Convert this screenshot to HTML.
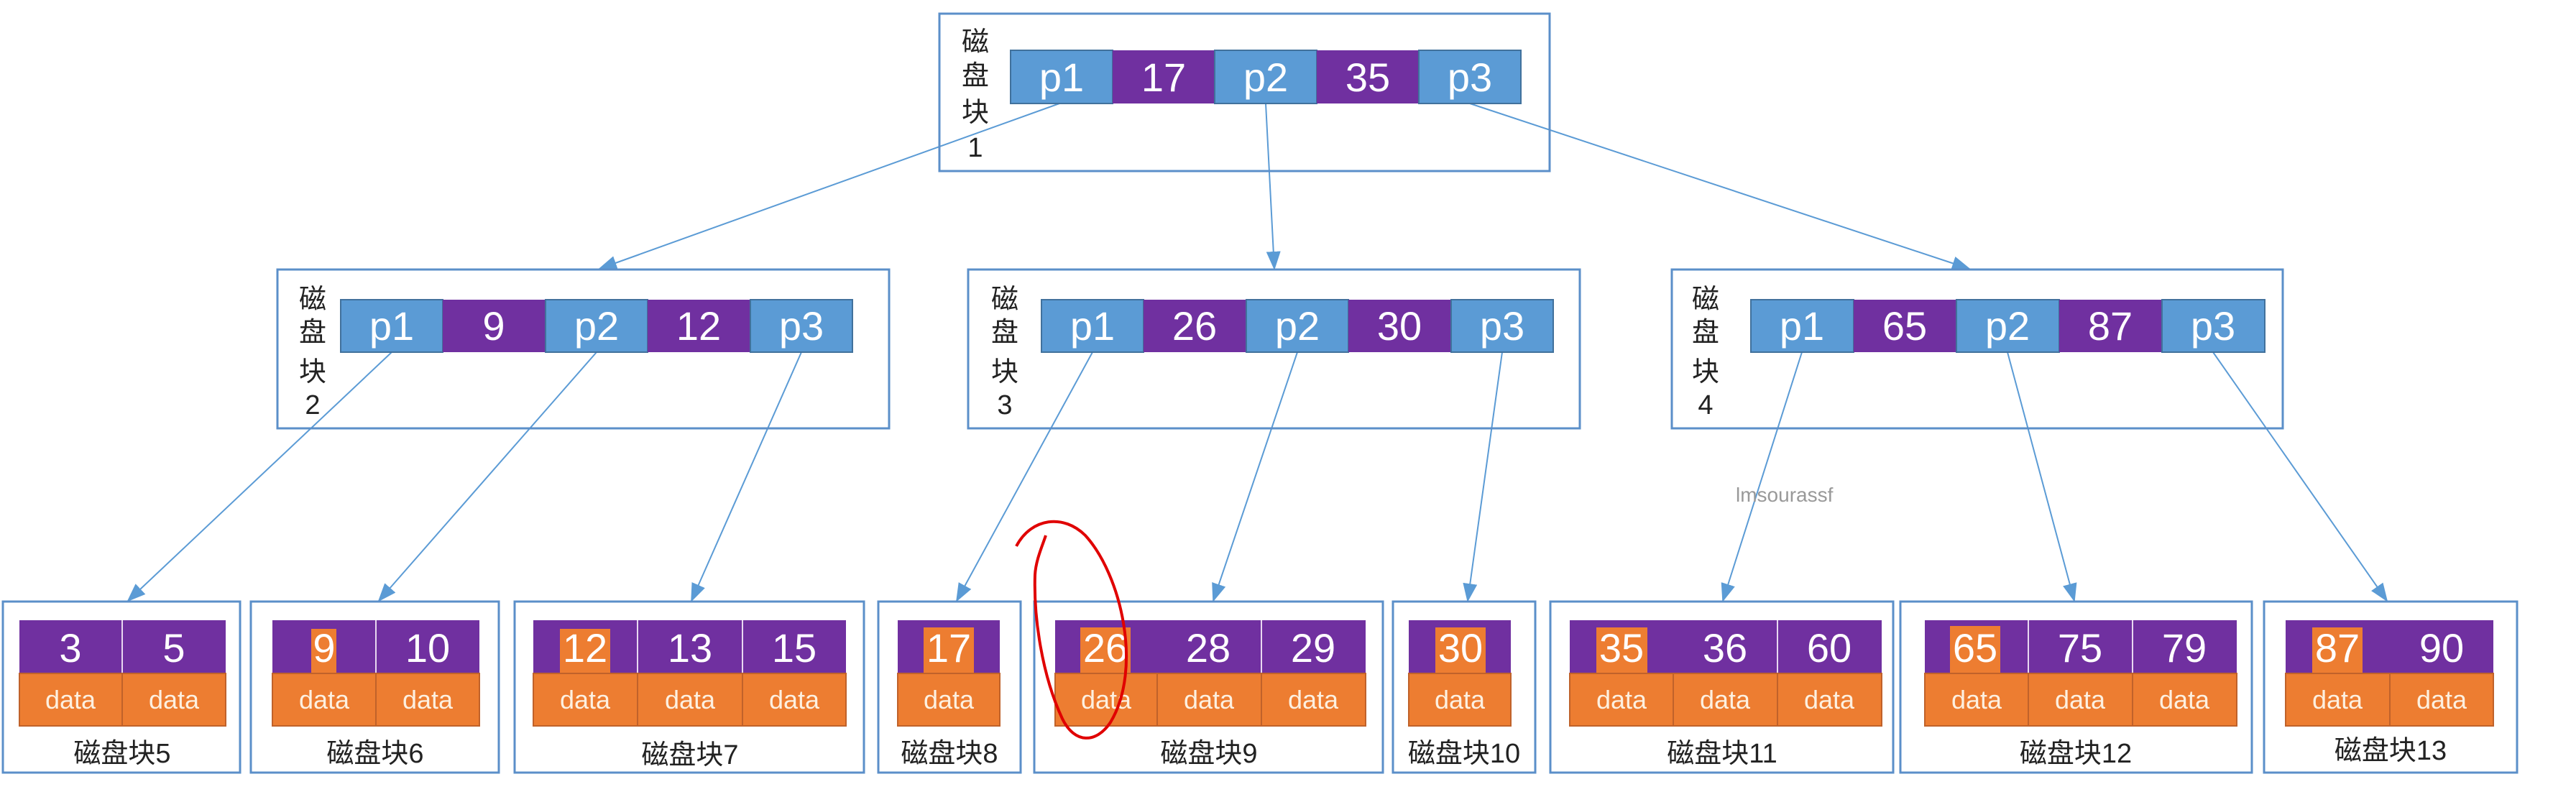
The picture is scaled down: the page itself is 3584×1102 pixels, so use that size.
<!DOCTYPE html>
<html><head><meta charset="utf-8"><style>
html,body{margin:0;padding:0;background:#fff;}
svg{display:block;}
text{font-family:"Liberation Sans","Noto Sans CJK SC",sans-serif;}
</style></head><body>
<svg width="3584" height="1102" viewBox="0 0 3584 1102" xmlns="http://www.w3.org/2000/svg">
<defs>
<marker id="ah" markerWidth="26" markerHeight="20" refX="24" refY="10" orient="auto" markerUnits="userSpaceOnUse">
<path d="M0,0 L26,10 L0,20 Z" fill="#5b9bd5"/>
</marker>
</defs>
<rect width="3584" height="1102" fill="#fff"/>

<g stroke="#5b9bd5" stroke-width="2" fill="none" marker-end="url(#ah)">
<line x1="1474" y1="144" x2="834" y2="374"/>
<line x1="1761" y1="144" x2="1773" y2="374"/>
<line x1="2045" y1="144" x2="2740" y2="374"/>
<line x1="545" y1="490" x2="178" y2="836"/>
<line x1="830" y1="490" x2="527" y2="836"/>
<line x1="1115" y1="490" x2="962" y2="836"/>
<line x1="1520" y1="490" x2="1331" y2="836"/>
<line x1="1805" y1="490" x2="1688" y2="836"/>
<line x1="2090" y1="490" x2="2042" y2="836"/>
<line x1="2507" y1="490" x2="2397" y2="836"/>
<line x1="2793" y1="490" x2="2886" y2="836"/>
<line x1="3079" y1="490" x2="3321" y2="836"/>
</g>

<g fill="none" stroke="#5b8fc9" stroke-width="3">
<rect x="1307" y="19" width="849" height="219"/>
<rect x="386" y="375" width="851" height="221"/>
<rect x="1347" y="375" width="851" height="221"/>
<rect x="2326" y="375" width="850" height="221"/>
<rect x="4" y="837" width="330" height="238"/>
<rect x="349" y="837" width="345" height="238"/>
<rect x="716" y="837" width="486" height="238"/>
<rect x="1222" y="837" width="198" height="238"/>
<rect x="1439" y="837" width="485" height="238"/>
<rect x="1938" y="837" width="198" height="238"/>
<rect x="2157" y="837" width="477" height="238"/>
<rect x="2644" y="837" width="489" height="238"/>
<rect x="3150" y="837" width="352" height="238"/>
</g>

<g font-size="38" fill="#222" text-anchor="middle">
<text x="1357" y="71">磁</text><text x="1357" y="118">盘</text><text x="1357" y="169">块</text><text x="1357" y="218">1</text>
<text x="435" y="429">磁</text><text x="435" y="475">盘</text><text x="435" y="530">块</text><text x="435" y="576">2</text>
<text x="1398" y="429">磁</text><text x="1398" y="475">盘</text><text x="1398" y="530">块</text><text x="1398" y="576">3</text>
<text x="2373" y="429">磁</text><text x="2373" y="475">盘</text><text x="2373" y="530">块</text><text x="2373" y="576">4</text>
</g>

<g stroke="#41719c" stroke-width="2">
<rect x="1406" y="70" width="142" height="74" fill="#5b9bd5"/>
<rect x="1548" y="70" width="142" height="74" fill="#7030a0" stroke="none"/>
<rect x="1690" y="70" width="142" height="74" fill="#5b9bd5"/>
<rect x="1832" y="70" width="142" height="74" fill="#7030a0" stroke="none"/>
<rect x="1974" y="70" width="142" height="74" fill="#5b9bd5"/>

<rect x="474" y="417" width="142" height="73" fill="#5b9bd5"/>
<rect x="616" y="417" width="143" height="73" fill="#7030a0" stroke="none"/>
<rect x="759" y="417" width="142" height="73" fill="#5b9bd5"/>
<rect x="901" y="417" width="143" height="73" fill="#7030a0" stroke="none"/>
<rect x="1044" y="417" width="142" height="73" fill="#5b9bd5"/>

<rect x="1449" y="417" width="142" height="73" fill="#5b9bd5"/>
<rect x="1591" y="417" width="143" height="73" fill="#7030a0" stroke="none"/>
<rect x="1734" y="417" width="142" height="73" fill="#5b9bd5"/>
<rect x="1876" y="417" width="143" height="73" fill="#7030a0" stroke="none"/>
<rect x="2019" y="417" width="142" height="73" fill="#5b9bd5"/>

<rect x="2436" y="417" width="143" height="73" fill="#5b9bd5"/>
<rect x="2579" y="417" width="143" height="73" fill="#7030a0" stroke="none"/>
<rect x="2722" y="417" width="143" height="73" fill="#5b9bd5"/>
<rect x="2865" y="417" width="143" height="73" fill="#7030a0" stroke="none"/>
<rect x="3008" y="417" width="143" height="73" fill="#5b9bd5"/>
</g>
<g font-size="56" fill="#fff" text-anchor="middle">
<text x="1477" y="127">p1</text><text x="1619" y="127">17</text><text x="1761" y="127">p2</text><text x="1903" y="127">35</text><text x="2045" y="127">p3</text>
<text x="545" y="473">p1</text><text x="687" y="473">9</text><text x="830" y="473">p2</text><text x="972" y="473">12</text><text x="1115" y="473">p3</text>
<text x="1520" y="473">p1</text><text x="1662" y="473">26</text><text x="1805" y="473">p2</text><text x="1947" y="473">30</text><text x="2090" y="473">p3</text>
<text x="2507" y="473">p1</text><text x="2650" y="473">65</text><text x="2793" y="473">p2</text><text x="2936" y="473">87</text><text x="3079" y="473">p3</text>
</g>

<g fill="#7030a0">
<rect x="27" y="863" width="287" height="74"/>
<rect x="379" y="863" width="288" height="74"/>
<rect x="742" y="863" width="435" height="74"/>
<rect x="1249" y="863" width="142" height="74"/>
<rect x="1468" y="863" width="432" height="74"/>
<rect x="1960" y="863" width="142" height="74"/>
<rect x="2184" y="863" width="434" height="74"/>
<rect x="2678" y="863" width="434" height="74"/>
<rect x="3180" y="863" width="289" height="74"/>
</g>
<g stroke="#e8d8f0" stroke-width="2">
<line x1="170" y1="863" x2="170" y2="937"/>
<line x1="523" y1="863" x2="523" y2="937"/>
<line x1="887" y1="863" x2="887" y2="937"/>
<line x1="1033" y1="863" x2="1033" y2="937"/>
<line x1="1755" y1="863" x2="1755" y2="937"/>
<line x1="2473" y1="863" x2="2473" y2="937"/>
<line x1="2822" y1="863" x2="2822" y2="937"/>
<line x1="2967" y1="863" x2="2967" y2="937"/>
</g>
<g fill="#ed7d31">
<rect x="433" y="875" width="35" height="62"/>
<rect x="779" y="875" width="70" height="62"/>
<rect x="1285" y="873" width="70" height="64"/>
<rect x="1503" y="873" width="70" height="64"/>
<rect x="1997" y="873" width="70" height="64"/>
<rect x="2221" y="873" width="71" height="64"/>
<rect x="2713" y="871" width="70" height="66"/>
<rect x="3217" y="873" width="70" height="64"/>
</g>
<g fill="#ed7d31" stroke="#c0622a" stroke-width="2">
<rect x="27" y="937" width="143" height="73"/><rect x="170" y="937" width="144" height="73"/>
<rect x="379" y="937" width="144" height="73"/><rect x="523" y="937" width="144" height="73"/>
<rect x="742" y="937" width="145" height="73"/><rect x="887" y="937" width="146" height="73"/><rect x="1033" y="937" width="144" height="73"/>
<rect x="1249" y="937" width="142" height="73"/>
<rect x="1468" y="937" width="142" height="73"/><rect x="1610" y="937" width="145" height="73"/><rect x="1755" y="937" width="145" height="73"/>
<rect x="1960" y="937" width="142" height="73"/>
<rect x="2184" y="937" width="144" height="73"/><rect x="2328" y="937" width="145" height="73"/><rect x="2473" y="937" width="145" height="73"/>
<rect x="2678" y="937" width="144" height="73"/><rect x="2822" y="937" width="145" height="73"/><rect x="2967" y="937" width="145" height="73"/>
<rect x="3180" y="937" width="145" height="73"/><rect x="3325" y="937" width="144" height="73"/>
</g>
<g font-size="56" fill="#fff" text-anchor="middle">
<text x="98" y="921">3</text><text x="242" y="921">5</text>
<text x="451" y="921">9</text><text x="595" y="921">10</text>
<text x="814" y="921">12</text><text x="960" y="921">13</text><text x="1105" y="921">15</text>
<text x="1320" y="921">17</text>
<text x="1538" y="921">26</text><text x="1681" y="921">28</text><text x="1827" y="921">29</text>
<text x="2032" y="921">30</text>
<text x="2256" y="921">35</text><text x="2400" y="921">36</text><text x="2545" y="921">60</text>
<text x="2748" y="921">65</text><text x="2894" y="921">75</text><text x="3039" y="921">79</text>
<text x="3252" y="921">87</text><text x="3397" y="921">90</text>
</g>
<g font-size="36" fill="#fdf0e0" text-anchor="middle">
<text x="98" y="986">data</text><text x="242" y="986">data</text>
<text x="451" y="986">data</text><text x="595" y="986">data</text>
<text x="814" y="986">data</text><text x="960" y="986">data</text><text x="1105" y="986">data</text>
<text x="1320" y="986">data</text>
<text x="1539" y="986">data</text><text x="1682" y="986">data</text><text x="1827" y="986">data</text>
<text x="2031" y="986">data</text>
<text x="2256" y="986">data</text><text x="2400" y="986">data</text><text x="2545" y="986">data</text>
<text x="2750" y="986">data</text><text x="2894" y="986">data</text><text x="3039" y="986">data</text>
<text x="3252" y="986">data</text><text x="3397" y="986">data</text>
</g>
<g font-size="38" fill="#222" text-anchor="middle">
<text x="170" y="1061">磁盘块5</text>
<text x="522" y="1061">磁盘块6</text>
<text x="960" y="1063">磁盘块7</text>
<text x="1321" y="1061">磁盘块8</text>
<text x="1682" y="1061">磁盘块9</text>
<text x="2037" y="1061">磁盘块10</text>
<text x="2396" y="1061">磁盘块11</text>
<text x="2888" y="1061">磁盘块12</text>
<text x="3326" y="1057">磁盘块13</text>
</g>

<text x="2415" y="698" font-size="28" fill="#999">lmsourassf</text>

<path d="M1414,760 C1435,720 1480,715 1510,745 C1560,800 1590,930 1545,1005 C1525,1035 1495,1035 1478,1000 C1450,940 1438,860 1440,800 C1441,780 1450,760 1455,745" fill="none" stroke="#e00000" stroke-width="4"/>
</svg>
</body></html>
